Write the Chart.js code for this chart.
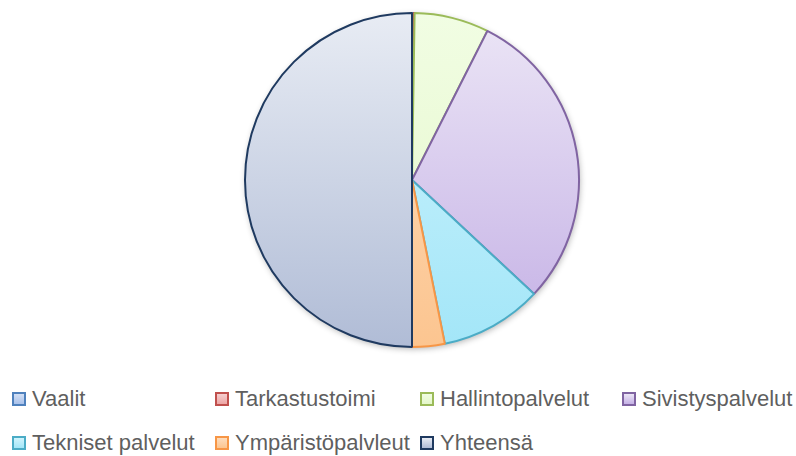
<!DOCTYPE html>
<html>
<head>
<meta charset="utf-8">
<script src="https://cdn.jsdelivr.net/npm/chart.js@4/dist/chart.umd.min.js"></script>
<style>
  html, body { margin: 0; padding: 0; background: #fff; }
  #wrap { position: relative; width: 796px; height: 456px; overflow: hidden; }
  #pie { position: absolute; left: 0; top: 0; }
  .lg { position: absolute; display: flex; align-items: center; font-family: "Liberation Sans", Arial, sans-serif; font-size: 22px; color: #5f5f5f; white-space: nowrap; }
  .lg i { display: inline-block; width: 10px; height: 10px; border: 2px solid; margin-right: 6px; }
</style>
</head>
<body>
<div id="wrap">
  <canvas id="pie" width="796" height="362"></canvas>
  <div id="legend"></div>
</div>
<script>
const labels = ["Vaalit", "Tarkastustoimi", "Hallintopalvelut", "Sivistyspalvelut", "Tekniset palvelut", "Ympäristöpalvleut", "Yhteensä"];
const values = [0.15, 0.1, 7.2, 29.5, 9.9, 3.15, 50];
const borderColors = ["#4f81bd", "#c0504d", "#9bbb59", "#8064a2", "#4bacc6", "#f79646", "#1f3a60"];
const fillTop = ["#d3e0f5", "#f5cfcf", "#f1fde3", "#ece6f6", "#d0f4fd", "#fddcbc", "#e8ecf4"];
const fillBottom = ["#a9c1ea", "#eda5a4", "#e4f7c9", "#c4b0e5", "#a3e6f8", "#fcc590", "#b0bcd6"];

// legend columns (Excel-like grid)
const legendX = [12, 215, 420, 622];
const legendY = [399, 443];

const legendRoot = document.getElementById("legend");
labels.forEach((name, i) => {
  const el = document.createElement("div");
  el.className = "lg";
  el.style.left = legendX[i % 4] + "px";
  el.style.top = (legendY[Math.floor(i / 4)] - 13) + "px";
  el.innerHTML = `<i style="border-color:${borderColors[i]};background:linear-gradient(${fillTop[i]},${fillBottom[i]});"></i>${name}`;
  legendRoot.appendChild(el);
});

// vertical gradient over the pie, light at the top
function sliceFill(ctx) {
  const i = ctx.dataIndex;
  const area = ctx.chart.chartArea;
  if (!area || i === undefined) return fillBottom[i || 0];
  const g = ctx.chart.ctx.createLinearGradient(0, area.top, 0, area.bottom);
  g.addColorStop(0, fillTop[i]);
  g.addColorStop(1, fillBottom[i]);
  return g;
}

// soft shadow under the whole pie only, so inner edges stay crisp
const shadow = {
  id: "shadow",
  beforeDatasetsDraw(chart) {
    const arc = chart.getDatasetMeta(0).data[0];
    if (!arc) return;
    const c = chart.ctx;
    c.save();
    c.shadowColor = "rgba(0,0,0,0.3)";
    c.shadowBlur = 6;
    c.shadowOffsetX = 1;
    c.shadowOffsetY = 2;
    c.fillStyle = "#fff";
    c.beginPath();
    c.arc(arc.x, arc.y, arc.outerRadius, 0, Math.PI * 2);
    c.fill();
    c.restore();
  },
};

new Chart(document.getElementById("pie").getContext("2d"), {
  type: "pie",
  data: {
    labels: labels,
    datasets: [{
      data: values,
      backgroundColor: sliceFill,
      borderColor: borderColors,
      borderWidth: 2,
    }],
  },
  options: {
    responsive: false,
    animation: false,
    layout: { padding: { left: 30, right: 2, top: 12, bottom: 14 } },
    plugins: {
      legend: { display: false },
      tooltip: { enabled: false },
    },
  },
  plugins: [shadow],
});
</script>
</body>
</html>
